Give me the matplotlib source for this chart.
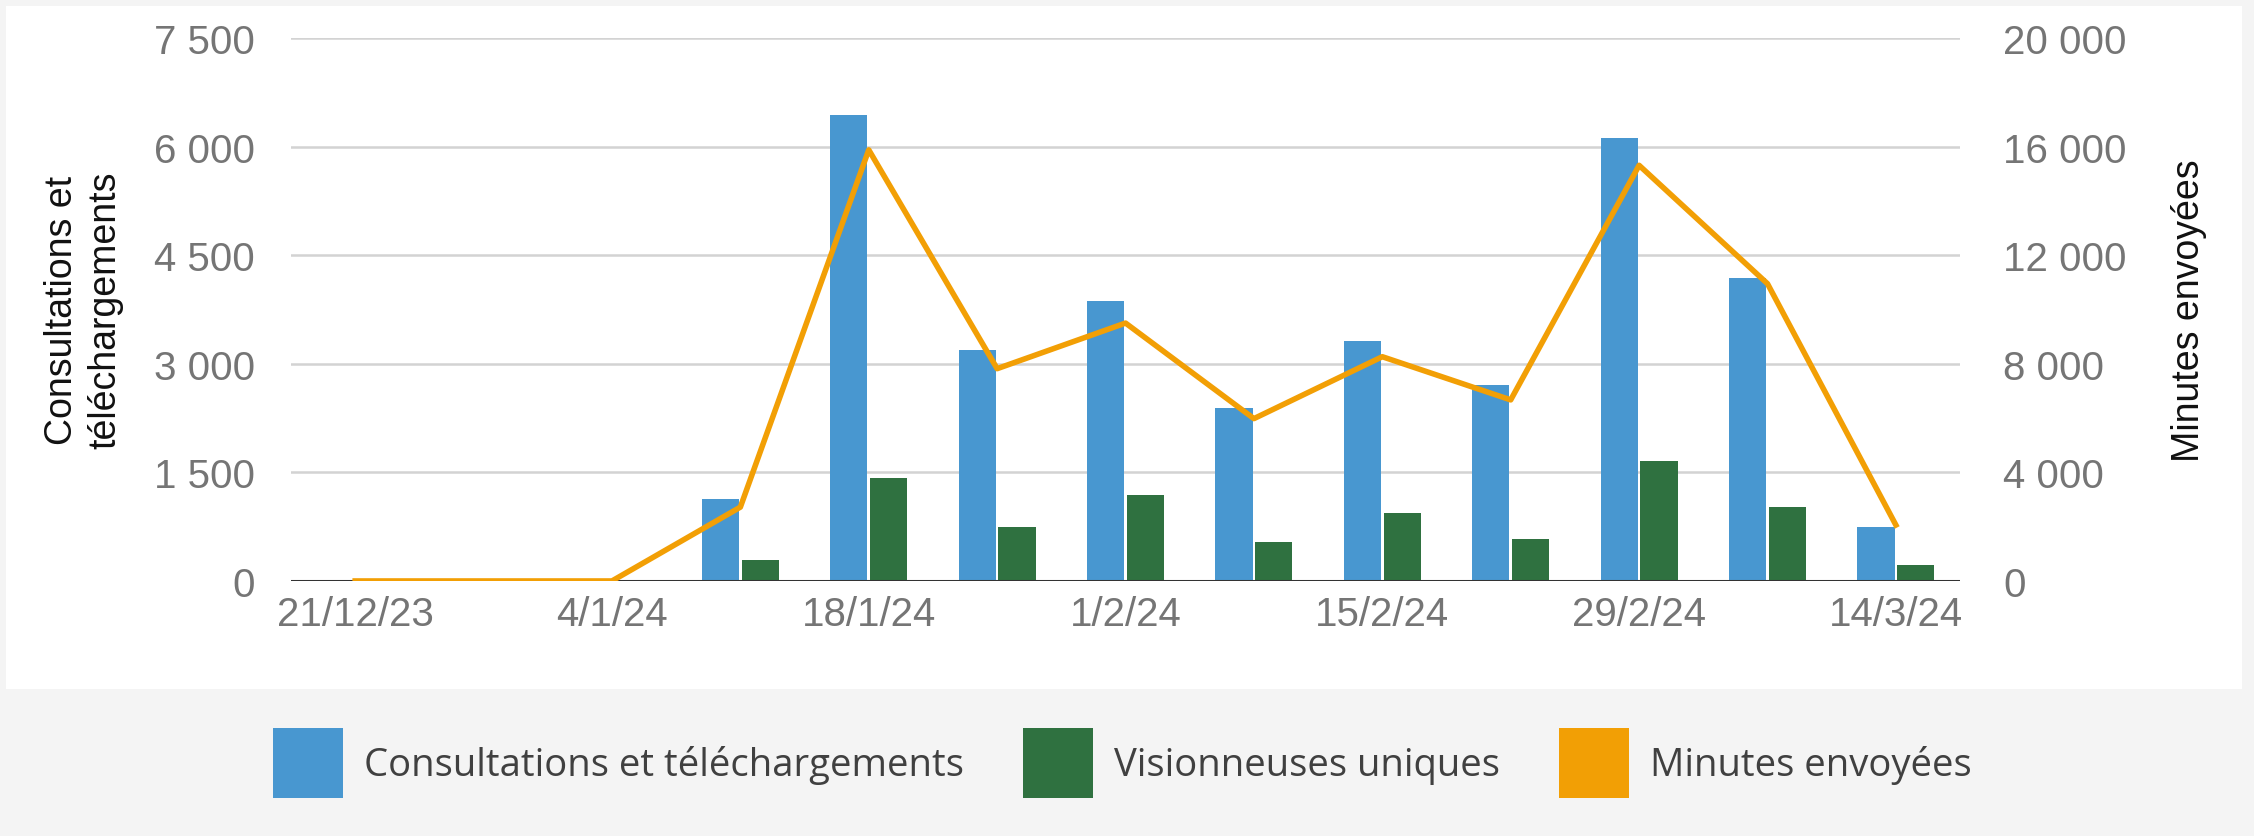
import matplotlib
matplotlib.use("Agg")
import matplotlib.pyplot as plt
import numpy as np
from matplotlib.patches import Patch, Rectangle
from matplotlib.ticker import FuncFormatter, MultipleLocator

# donnees hebdomadaires
dates = ['21/12/23', '28/12/23', '4/1/24', '11/1/24', '18/1/24', '25/1/24', '1/2/24',
         '8/2/24', '15/2/24', '22/2/24', '29/2/24', '7/3/24', '14/3/24']
consultations = [0, 0, 0, 1130, 6440, 3190, 3870, 2390, 3315, 2705, 6125, 4190, 740]
visionneuses = [0, 0, 0, 290, 1420, 740, 1185, 540, 945, 575, 1660, 1020, 215]
minutes = [0, 0, 0, 2720, 15880, 7820, 9500, 5980, 8260, 6670, 15310, 10950, 2060]

c_blue = '#4897D0'
c_green = '#2F7140'
c_orange = '#F29F05'
c_tick = '#757575'

plt.rcParams['font.family'] = ['Liberation Sans', 'DejaVu Sans']

def fmt_milliers(v, pos):
    return '{:,.0f}'.format(v).replace(',', ' ')

fig = plt.figure(figsize=(22.54, 8.37), dpi=100)
fig.patch.set_facecolor('#F4F4F4')
fig.add_artist(Rectangle((6 / 2254, 1 - 690 / 837), 2236 / 2254, 683 / 837,
                         transform=fig.transFigure, facecolor='white',
                         edgecolor='none', zorder=0))

ax = fig.add_axes([0.1291, 0.3047, 0.7405, 0.6487])
ax.set_facecolor('none')
x = np.arange(len(dates))
w = 0.29
ax.bar(x - 0.155, consultations, w, color=c_blue, zorder=3)
ax.bar(x + 0.155, visionneuses, w, color=c_green, zorder=3)
ax.set_xlim(-0.5, len(dates) - 0.5)
ax.set_ylim(0, 7500)
ax.yaxis.set_major_locator(MultipleLocator(1500))
ax.yaxis.set_major_formatter(FuncFormatter(fmt_milliers))
ax.grid(axis='y', color='#D3D3D3', lw=1.8, zorder=0)
ax.axhline(0, color='#333333', lw=2.2, zorder=4)
ax.set_xticks(x[::2])
ax.set_xticklabels(dates[::2])
for s in ax.spines.values():
    s.set_visible(False)
ax.tick_params(length=0, labelsize=29, labelcolor=c_tick, pad=26)
ax.tick_params(axis='x', pad=10)
ax.set_ylabel('Consultations et\ntéléchargements', fontsize=27, color='#111111',
              linespacing=1.25, labelpad=22)

ax2 = ax.twinx()
ax2.plot(x, minutes, color=c_orange, lw=4, zorder=5)
ax2.set_ylim(0, 20000)
ax2.yaxis.set_major_locator(MultipleLocator(4000))
ax2.yaxis.set_major_formatter(FuncFormatter(fmt_milliers))
for s in ax2.spines.values():
    s.set_visible(False)
ax2.tick_params(length=0, labelsize=29, labelcolor=c_tick, pad=31)
ax2.set_ylabel('Minutes envoyées', fontsize=27, color='#111111', labelpad=32)

handles = [Patch(facecolor=c_blue), Patch(facecolor=c_green), Patch(facecolor=c_orange)]
labels = ['Consultations et téléchargements', 'Visionneuses uniques', 'Minutes envoyées']
leg = fig.legend(handles, labels, loc='center', bbox_to_anchor=(0.498, 0.087), ncol=3,
                 frameon=False, handlelength=1.83, handleheight=2.44, handletextpad=0.55,
                 columnspacing=1.55, prop={'family': 'Open Sans', 'size': 27.5})
for t in leg.get_texts():
    t.set_color('#404040')

fig.savefig('out.png', dpi=100, facecolor=fig.get_facecolor())
